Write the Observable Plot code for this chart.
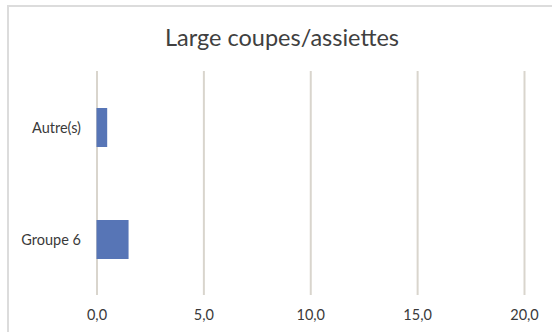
<!DOCTYPE html>
<html>
<head>
<meta charset="utf-8">
<script src="https://cdn.jsdelivr.net/npm/d3@7"></script>
<script src="https://cdn.jsdelivr.net/npm/@observablehq/plot@0.6"></script>
<style>
  html, body { margin: 0; padding: 0; background: #fff; }
  #wrap { position: relative; width: 552px; height: 332px; overflow: hidden; background: #fff; }
  #frame { position: absolute; left: 7px; top: 5px; width: 600px; height: 400px; border: 2px solid #dcdcdc; box-sizing: border-box; }
  #title { position: absolute; left: 0; top: 22px; width: 564px; text-align: center; font-family: Lato, sans-serif; font-size: 23.5px; line-height: 30px; color: #404040; }
  #chart { position: absolute; left: 0; top: 0; }
</style>
</head>
<body>
<div id="wrap">
  <div id="frame"></div>
  <div id="title">Large coupes/assiettes</div>
  <div id="chart"></div>
</div>
<script>
const categories = ["Autre(s)", "Groupe 6"];
const values = [0.5, 1.5];
const xTicks = [0, 5, 10, 15, 20];
const xTickLabels = ["0,0", "5,0", "10,0", "15,0", "20,0"];

const data = categories.map((c, i) => ({category: c, value: values[i]}));

const plot = Plot.plot({
  width: 552,
  height: 332,
  marginLeft: 96.5,
  marginRight: 28,
  marginTop: 71,
  marginBottom: 37,
  style: {fontFamily: "Lato, sans-serif", fontSize: "14.5px", color: "#3a3a3a", background: "transparent"},
  x: {domain: [0, 20], ticks: xTicks, tickFormat: (d) => xTickLabels[xTicks.indexOf(d)], tickSize: 0, tickPadding: 14, label: null},
  y: {domain: categories, paddingInner: 0.652, paddingOuter: 0.326, tickSize: 0, tickPadding: 16, label: null},
  marks: [
    Plot.ruleX(xTicks, {stroke: "#d9d5cd", strokeWidth: 2}),
    Plot.barX(data, {x: "value", y: "category", fill: "#5775b6"}),
    Plot.axisX({ticks: xTicks, tickFormat: (d) => xTickLabels[xTicks.indexOf(d)], tickSize: 0, tickPadding: 14, fontSize: 14.5}),
    Plot.axisY({tickSize: 0, tickPadding: 16, fontSize: 14.5})
  ]
});
document.getElementById("chart").appendChild(plot);
</script>
</body>
</html>
